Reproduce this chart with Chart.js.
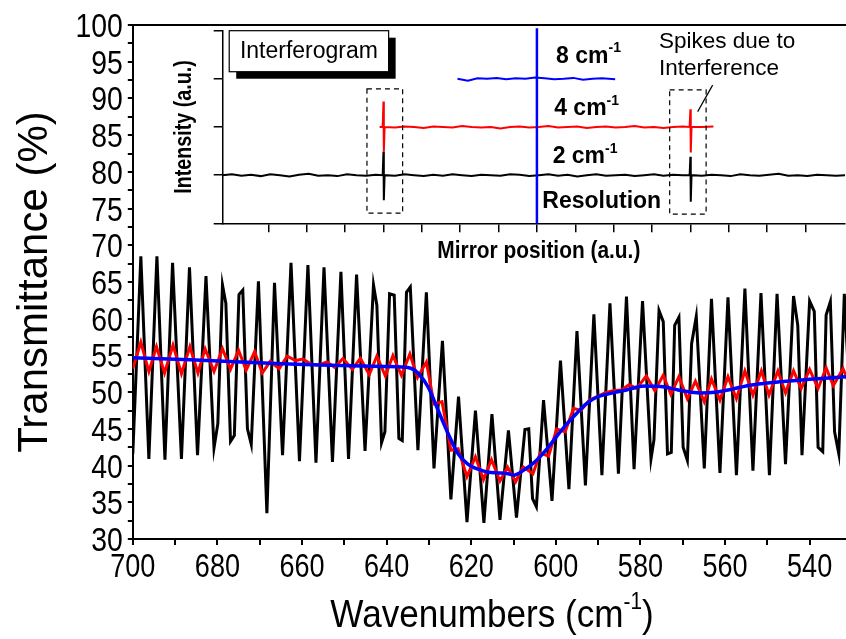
<!DOCTYPE html>
<html>
<head>
<meta charset="utf-8">
<script src="https://cdn.jsdelivr.net/npm/chart.js@4.4.1/dist/chart.umd.min.js"></script>
<style>
    html, body { margin: 0; padding: 0; background: #fff; }
    #wrap { position: relative; width: 846px; height: 639px; overflow: hidden; }
    #main-box { position: absolute; left: 0; top: 0; width: 846px; height: 639px; }
    #inset-box { position: absolute; left: 150px; top: 15px; width: 696px; height: 255px; }
</style>
</head>
<body>
<div id="wrap">
    <div id="main-box"><canvas id="spectra"></canvas></div>
    <div id="inset-box"><canvas id="interferogram"></canvas></div>
</div>
<script>
// Transmittance spectra (wavenumber, %)
const wn2 = [700.0, 698.1, 696.2, 694.3, 692.4, 690.6, 688.5, 686.6, 684.7, 682.7,
    680.8, 679.9, 678.8, 678.0, 676.9, 676.0, 674.9, 674.0, 672.9, 672.0,
    670.3, 668.3, 666.5, 664.6, 662.6, 660.6, 658.6, 656.7, 654.8, 652.8,
    650.8, 649.0, 647.1, 645.1, 643.1, 642.3, 641.2, 640.4, 639.3, 638.2,
    637.1, 636.3, 635.3, 634.4, 632.6, 630.6, 628.8, 626.8, 624.8, 623.0,
    621.0, 619.0, 617.0, 615.1, 613.2, 611.2, 609.3, 607.3, 606.4, 605.5,
    604.6, 602.9, 600.9, 598.9, 596.9, 595.0, 593.0, 591.0, 589.1, 587.2,
    585.2, 583.3, 581.5, 579.5, 577.5, 576.8, 575.6, 574.6, 573.6, 572.7,
    571.9, 570.9, 569.9, 568.9, 567.9, 566.8, 564.9, 563.2, 561.2, 559.3,
    557.3, 555.3, 553.4, 551.5, 549.5, 547.7, 545.7, 543.8, 542.8, 541.8,
    540.0, 538.9, 538.0, 536.9, 536.1, 535.1, 534.1, 533.1, 531.8, 530.6];
const tr2 = [41.6, 68.5, 40.9, 68.5, 40.8, 67.6, 40.9, 67.0, 41.4, 65.8,
    42.4, 45.7, 64.6, 62.1, 43.3, 44.1, 63.3, 63.9, 45.0, 42.9,
    65.1, 33.5, 64.9, 41.4, 67.6, 40.6, 67.3, 40.4, 67.0, 40.5,
    66.4, 40.9, 66.0, 42.0, 64.6, 61.8, 43.1, 44.6, 63.4, 63.2,
    43.7, 43.4, 63.6, 64.3, 42.1, 63.6, 39.6, 57.0, 35.4, 49.4,
    32.3, 47.5, 32.2, 47.0, 32.6, 44.8, 32.9, 44.9, 45.0, 35.5,
    34.4, 48.9, 35.2, 54.3, 36.8, 58.3, 37.3, 60.6, 38.7, 62.1,
    38.9, 63.0, 39.5, 62.4, 40.9, 43.5, 61.1, 59.6, 41.6, 41.8,
    59.1, 60.2, 42.5, 40.7, 56.6, 60.3, 39.6, 62.7, 39.0, 62.9,
    38.7, 64.1, 39.3, 63.5, 38.7, 63.4, 40.2, 63.1, 59.1, 41.4,
    62.4, 61.0, 42.5, 41.9, 60.5, 62.3, 44.6, 41.6, 63.4, 50.0];

const wn4 = [700.0, 698.1, 696.2, 694.4, 692.5, 690.5, 688.5, 686.5, 684.6, 682.9,
    680.8, 678.8, 676.9, 675.0, 673.2, 671.2, 669.4, 667.5, 665.4, 663.5,
    661.5, 659.8, 657.8, 656.0, 654.1, 652.3, 650.3, 648.1, 646.2, 644.1,
    642.3, 640.3, 638.5, 636.5, 634.5, 632.7, 630.6, 628.8, 626.9, 624.8,
    623.1, 621.0, 619.0, 617.1, 615.2, 613.2, 611.4, 609.5, 607.7, 605.4,
    603.7, 601.7, 599.8, 597.8, 595.8, 594.1, 592.1, 590.2, 588.4, 586.5,
    584.5, 582.7, 580.9, 578.6, 576.6, 574.6, 572.8, 570.9, 568.9, 567.0,
    564.9, 563.2, 561.2, 559.3, 557.3, 555.3, 553.4, 551.4, 549.6, 547.5,
    545.7, 543.8, 542.0, 540.0, 538.0, 536.1, 534.4, 532.1, 530.9];
const tr4 = [53.2, 56.8, 52.8, 56.2, 52.6, 56.4, 52.5, 56.2, 52.6, 55.9,
    52.8, 55.9, 53.1, 55.7, 53.0, 55.5, 52.6, 54.2, 53.2, 54.9,
    54.3, 54.5, 53.8, 53.7, 54.1, 53.4, 54.6, 53.1, 54.6, 52.4,
    54.9, 52.2, 55.0, 52.3, 55.2, 52.0, 54.1, 48.4, 48.7, 42.1,
    42.3, 38.5, 41.2, 38.1, 40.8, 37.9, 39.8, 37.8, 39.8, 38.9,
    41.7, 41.3, 45.0, 44.6, 47.8, 47.5, 48.9, 49.4, 49.9, 50.2,
    50.3, 51.0, 50.5, 52.2, 50.2, 52.3, 49.7, 52.1, 49.1, 51.5,
    48.7, 51.8, 48.9, 52.1, 49.1, 52.9, 49.6, 52.9, 49.6, 52.9,
    49.9, 52.9, 50.5, 53.1, 50.5, 53.3, 50.9, 53.2, 51.5];

const wn8 = [700.0, 686.5, 670.4, 655.7, 640.8, 634.5, 632.6, 630.2, 627.8, 625.5,
    623.1, 620.8, 618.4, 616.0, 613.7, 611.3, 609.7, 607.0, 604.6, 602.2,
    599.9, 597.5, 595.1, 592.8, 590.4, 588.0, 585.7, 583.3, 579.8, 576.6,
    574.2, 571.1, 567.9, 565.6, 562.4, 559.3, 556.1, 552.2, 547.1, 539.2, 531.3];
const tr8 = [54.7, 54.4, 54.0, 53.7, 53.5, 53.3, 52.6, 50.7, 47.5, 44.4,
    41.6, 40.2, 39.5, 39.1, 39.0, 38.9, 38.7, 39.6, 40.7, 42.2,
    43.9, 45.6, 47.1, 48.4, 49.3, 49.7, 50.0, 50.3, 50.8, 50.8,
    50.7, 50.3, 50.0, 49.9, 50.0, 50.3, 50.7, 51.1, 51.4, 51.8, 52.1];

// tick marks of the wavenumber axis (labels on every second one)
const wnTicks = [700, 690, 680, 670, 660, 650, 640, 630, 620, 610, 600, 590, 580, 570, 560, 550, 540];

// Inset: interferograms (mirror position, intensity), arbitrary units
const ifg2X = [-0.2, 0.05, 0.3, 0.55, 0.8, 1.05, 1.3, 1.55, 1.8, 2.05, 2.3, 2.55, 2.8, 3.05, 3.3, 3.55, 3.8,
    3.98, 4.0, 4.01, 4.03,
    4.3, 4.55, 4.8, 5.05, 5.3, 5.55, 5.8, 6.05, 6.3, 6.55, 6.8, 7.05, 7.3, 7.55, 7.8, 8.05,
    8.3, 8.55, 8.8, 9.05, 9.3, 9.55, 9.8, 10.05, 10.3, 10.55, 10.8, 11.05, 11.3, 11.55, 11.8,
    11.98, 12.0, 12.01, 12.03,
    12.3, 12.55, 12.8, 13.05, 13.3, 13.55, 13.8, 14.05, 14.3, 14.55, 14.8, 15.05, 15.3, 15.55, 15.8, 16.05];
const ifg2Y = [1.00, 1.02, 0.99, 1.01, 0.98, 1.02, 1.00, 0.97, 1.01, 1.03, 0.99, 1.00, 0.98, 1.02, 1.00, 0.99, 1.01,
    1.00, 1.49, 0.48, 1.00,
    0.99, 1.02, 1.00, 0.98, 1.01, 0.99, 1.02, 1.00, 0.98, 1.01, 1.00, 0.99, 1.02, 1.01, 0.98, 1.00,
    1.02, 0.99, 1.01, 0.97, 1.00, 1.02, 0.99, 1.00, 1.01, 0.98, 1.00, 1.02, 0.99, 1.01, 1.00,
    1.00, 1.38, 0.45, 1.00,
    0.99, 1.01, 1.00, 0.98, 1.02, 1.00, 0.99, 1.01, 1.03, 0.99, 1.00, 0.98, 1.01, 1.00, 0.99, 1.00];

const ifg4X = [3.9, 3.98, 4.0, 4.01, 4.03,
    4.3, 4.55, 4.8, 5.05, 5.3, 5.55, 5.8, 6.05, 6.3, 6.55, 6.8, 7.05, 7.3, 7.55, 7.8, 8.05,
    8.3, 8.55, 8.8, 9.05, 9.3, 9.55, 9.8, 10.05, 10.3, 10.55, 10.8, 11.05, 11.3, 11.55, 11.8,
    11.98, 12.0, 12.01, 12.03, 12.3, 12.6];
const ifg4Y = [2.00, 2.00, 2.53, 1.49, 2.00,
    1.99, 2.01, 2.00, 1.98, 2.01, 2.00, 1.99, 2.02, 2.00, 1.99, 2.00, 1.97, 2.00, 2.01, 1.99, 2.00,
    2.02, 1.99, 2.00, 2.01, 1.98, 2.00, 2.01, 1.99, 2.00, 2.02, 1.99, 2.00, 1.98, 2.00, 2.01,
    2.00, 2.37, 1.47, 2.00, 2.00, 2.01];

const ifg8X = [5.93, 6.2, 6.45, 6.7, 6.95, 7.2, 7.45, 7.7, 7.95, 8.2, 8.45, 8.7, 8.95, 9.2, 9.45, 9.7, 10.04];
const ifg8Y = [3.00, 2.96, 3.01, 3.00, 3.02, 2.99, 3.01, 3.00, 3.03, 3.01, 2.99, 3.00, 3.02, 2.98, 3.00, 3.01, 2.99];

// centre burst marker (zero path difference)
const zpdX = [8, 8];
const zpdY = [0, 4.05];

const FONT = '"Liberation Sans", Arial, sans-serif';
const NARROW = 0.82;   // Origin used Arial Narrow for the tick labels

function toPoints(xs, ys) {
    return xs.map((x, i) => ({x: x, y: ys[i]}));
}

// draw text made of parts, some of them superscript
function drawLabel(ctx, parts, x, y, opt) {
    const sx = opt.sx || 1;
    const weight = opt.weight || 'normal';
    const supSize = Math.round(opt.size * 0.6);
    let total = 0;
    const widths = parts.map(p => {
        ctx.font = `${weight} ${p.sup ? supSize : opt.size}px ${FONT}`;
        const w = ctx.measureText(p.text).width * sx;
        total += w;
        return w;
    });
    let cx = x;
    if (opt.align === 'center') cx = x - total / 2;
    if (opt.align === 'right') cx = x - total;
    ctx.textAlign = 'left';
    ctx.textBaseline = 'alphabetic';
    ctx.fillStyle = '#000';
    parts.forEach((p, i) => {
        ctx.font = `${weight} ${p.sup ? supSize : opt.size}px ${FONT}`;
        ctx.save();
        ctx.translate(cx, p.sup ? y - opt.size * 0.45 : y);
        ctx.scale(sx, 1);
        ctx.fillText(p.text, 0, 0);
        ctx.restore();
        cx += widths[i];
    });
}

function keepWholeTicks(scale) {
    scale.ticks = scale.ticks.filter(t => Math.abs(t.value - Math.round(t.value)) < 1e-6);
}

// labels, titles and the top frame of the main plot
const spectraText = {
    id: 'spectraText',
    afterDraw(chart) {
        const {ctx, chartArea: ca, scales: {x, y}} = chart;
        ctx.save();
        ctx.strokeStyle = '#000';
        ctx.lineWidth = 2;
        ctx.beginPath();
        ctx.moveTo(ca.left, ca.top);
        ctx.lineTo(ca.right, ca.top);
        ctx.stroke();

        x.ticks.forEach(t => {
            if (Math.round(t.value) % 20 !== 0) return;
            drawLabel(ctx, [{text: String(t.value)}], x.getPixelForValue(t.value), ca.bottom + 38,
                {size: 33, sx: NARROW, align: 'center'});
        });
        y.ticks.forEach(t => {
            if (t.value % 5 !== 0) return;
            drawLabel(ctx, [{text: String(t.value)}], ca.left - 10, y.getPixelForValue(t.value) + 12,
                {size: 33, sx: 0.86, align: 'right'});
        });

        drawLabel(ctx, [{text: 'Wavenumbers (cm'}, {text: '-1', sup: true}, {text: ')'}],
            492, 627, {size: 39, sx: 0.9, align: 'center'});

        ctx.translate(47, 282);
        ctx.rotate(-Math.PI / 2);
        drawLabel(ctx, [{text: 'Transmittance (%)'}], 0, 0, {size: 42, sx: 1.0, align: 'center'});
        ctx.restore();
    }
};

const spectraChart = new Chart(document.getElementById('spectra'), {
    type: 'scatter',
    data: {
        datasets: [
            {
                label: '8 cm-1',
                data: toPoints(wn8, tr8),
                showLine: true,
                borderColor: '#0000ff',
                borderWidth: 3.5,
                pointRadius: 0,
                tension: 0.3,
                order: 1
            },
            {
                label: '4 cm-1',
                data: toPoints(wn4, tr4),
                showLine: true,
                borderColor: '#ff0000',
                borderWidth: 3,
                pointRadius: 0,
                borderJoinStyle: 'miter',
                order: 2
            },
            {
                label: '2 cm-1',
                data: toPoints(wn2, tr2),
                showLine: true,
                borderColor: '#000000',
                borderWidth: 3,
                pointRadius: 0,
                borderJoinStyle: 'miter',
                order: 3
            }
        ]
    },
    options: {
        responsive: true,
        maintainAspectRatio: false,
        animation: false,
        devicePixelRatio: 1,
        events: [],
        layout: {padding: {top: 25, left: 0, right: 0, bottom: 0}},
        plugins: {legend: {display: false}, tooltip: {enabled: false}},
        scales: {
            x: {
                type: 'linear',
                reverse: true,
                min: 531.4,
                max: 700,
                afterBuildTicks: s => { s.ticks = wnTicks.map(v => ({value: v})); },
                afterFit: s => { s.height = 100; },
                ticks: {display: false, autoSkip: false},
                grid: {drawOnChartArea: false, drawTicks: true, tickLength: 6, color: '#000', lineWidth: 2},
                border: {display: true, color: '#000', width: 2}
            },
            y: {
                min: 30,
                max: 100,
                afterFit: s => { s.width = 132.8; },
                ticks: {stepSize: 2.5, display: false, autoSkip: false},
                grid: {drawOnChartArea: false, drawTicks: true, tickLength: 5, color: '#000', lineWidth: 2},
                border: {display: true, color: '#000', width: 2}
            }
        }
    },
    plugins: [spectraText]
});

// inset notes: boxes round the spikes, captions
const insetText = {
    id: 'insetText',
    afterDatasetsDraw(chart) {
        const {ctx, chartArea: ca, scales: {x, y}} = chart;
        const px = v => x.getPixelForValue(v);
        const py = v => y.getPixelForValue(v);
        ctx.save();
        ctx.strokeStyle = '#000';

        // dashed frames round the spikes
        ctx.lineWidth = 1.2;
        ctx.setLineDash([5, 4]);
        [[3.57, 4.5, 0.21, 2.79], [11.46, 12.41, 0.19, 2.77]].forEach(f => {
            ctx.strokeRect(px(f[0]), py(f[3]), px(f[1]) - px(f[0]), py(f[2]) - py(f[3]));
        });
        ctx.setLineDash([]);

        // pointer from the note to the frame
        ctx.beginPath();
        ctx.moveTo(px(12.58), py(2.87));
        ctx.lineTo(px(12.19), py(2.32));
        ctx.stroke();

        // "Interferogram" box with drop shadow
        const bx = px(-0.02), by = py(4.0);
        const bw = px(4.135) - bx, bh = py(3.148) - by;
        ctx.fillStyle = '#000';
        ctx.fillRect(bx + 7, by + 7, bw, bh);
        ctx.fillStyle = '#fff';
        ctx.fillRect(bx, by, bw, bh);
        ctx.strokeRect(bx, by, bw, bh);
        drawLabel(ctx, [{text: 'Interferogram'}], bx + bw / 2, py(3.427), {size: 23, align: 'center'});

        const bold = {size: 23, weight: 'bold'};
        drawLabel(ctx, [{text: '8 cm'}, {text: '-1', sup: true}], px(8.5), py(3.335), bold);
        drawLabel(ctx, [{text: '4 cm'}, {text: '-1', sup: true}], px(8.45), py(2.25), bold);
        drawLabel(ctx, [{text: '2 cm'}, {text: '-1', sup: true}], px(8.41), py(1.246), bold);
        drawLabel(ctx, [{text: 'Resolution'}], px(8.14), py(0.31), bold);

        drawLabel(ctx, [{text: 'Spikes due to'}], px(11.18), py(3.634), {size: 22.5});
        drawLabel(ctx, [{text: 'Interference'}], px(11.18), py(3.08), {size: 22.5});

        // axis titles
        drawLabel(ctx, [{text: 'Mirror position (a.u.)'}], (ca.left + ca.right) / 2 + 5, ca.bottom + 35,
            {size: 24, weight: 'bold', sx: 0.87, align: 'center'});
        ctx.translate(ca.left - 32, (ca.top + ca.bottom) / 2);
        ctx.rotate(-Math.PI / 2);
        drawLabel(ctx, [{text: 'Intensity (a.u.)'}], 0, 0, {size: 24, weight: 'bold', sx: NARROW, align: 'center'});
        ctx.restore();
    }
};

const insetChart = new Chart(document.getElementById('interferogram'), {
    type: 'scatter',
    data: {
        datasets: [
            {data: toPoints(zpdX, zpdY), showLine: true, borderColor: '#0000ff', borderWidth: 2.5, pointRadius: 0, clip: 6, order: 1},
            {data: toPoints(ifg8X, ifg8Y), showLine: true, borderColor: '#0000ff', borderWidth: 2, pointRadius: 0, order: 2},
            {data: toPoints(ifg4X, ifg4Y), showLine: true, borderColor: '#ff0000', borderWidth: 2, pointRadius: 0, order: 3},
            {data: toPoints(ifg2X, ifg2Y), showLine: true, borderColor: '#000000', borderWidth: 2, pointRadius: 0, order: 4}
        ]
    },
    options: {
        responsive: true,
        maintainAspectRatio: false,
        animation: false,
        devicePixelRatio: 1,
        events: [],
        layout: {padding: {top: 15.7, left: 62.7, right: 1, bottom: 36.7}},
        plugins: {legend: {display: false}, tooltip: {enabled: false}},
        scales: {
            x: {
                type: 'linear',
                min: -0.19,
                max: 16.03,
                afterBuildTicks: keepWholeTicks,
                afterFit: s => { s.height = 10; },
                ticks: {stepSize: 1, display: false, autoSkip: false},
                grid: {drawOnChartArea: false, drawTicks: true, tickLength: 9, color: '#000', lineWidth: 1.5},
                border: {display: true, color: '#000', width: 1.5}
            },
            y: {
                min: 0,
                max: 4,
                afterFit: s => { s.width = 10; },
                ticks: {stepSize: 1, display: false, autoSkip: false},
                grid: {drawOnChartArea: false, drawTicks: true, tickLength: 9, color: '#000', lineWidth: 1.5},
                border: {display: true, color: '#000', width: 1.5}
            }
        }
    },
    plugins: [insetText]
});
</script>
</body>
</html>
